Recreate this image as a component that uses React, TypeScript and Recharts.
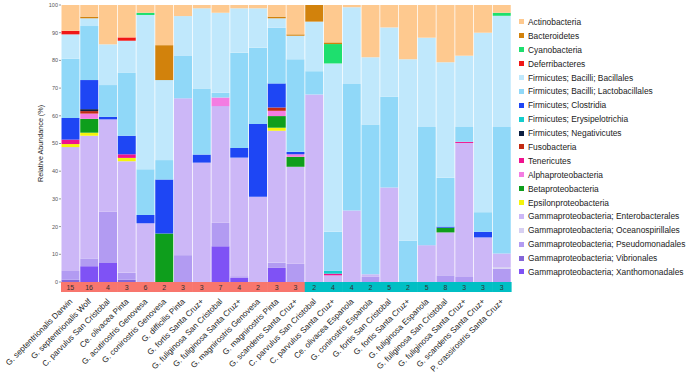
import React from 'react';
import { BarChart, Bar, XAxis, YAxis } from 'recharts';

// ---- categories ----
const birds = [
  'G. septentrionalis Darwin', 'G. septentrionalis Wolf', 'C. parvulus San Cristobal', 'Ce. olivacea Pinta',
  'G. acutirostris Genovesa', 'G. conirostris Genovesa', 'G. difficilis Pinta', 'G. fortis Santa Cruz+',
  'G. fuliginosa San Cristobal', 'G. fuliginosa Santa Cruz+', 'G. magnirostris Genovesa', 'G. magnirostris Pinta',
  'G. scandens Santa Cruz+',
  'C. parvulus San Cristobal', 'C. parvulus Santa Cruz+', 'Ce. olivacea Espanola', 'G. conirostris Espanola',
  'G. fortis San Cristobal', 'G. fortis Santa Cruz+', 'G. fuliginosa Espanola', 'G. fuliginosa San Cristobal',
  'G. fuliginosa Santa Cruz+', 'G. scandens Santa Cruz+', 'P. crassirostris Santa Cruz+',
];
const sampleSizes = [15, 16, 4, 3, 6, 2, 3, 3, 7, 4, 2, 3, 3, 2, 4, 4, 2, 5, 2, 5, 8, 3, 3, 3];
const groups = ['a', 'a', 'a', 'a', 'a', 'a', 'a', 'a', 'a', 'a', 'a', 'a', 'a', 'b', 'b', 'b', 'b', 'b', 'b', 'b', 'b', 'b', 'b', 'b'];
const groupColors: Record<string, string> = { a: '#F8766D', b: '#00BFC4' };
const yTicks = [0, 10, 20, 30, 40, 50, 60, 70, 80, 90, 100];

// ---- series values (% relative abundance) ----
const actinobacteria = [9.3, 4.2, 14.2, 11.7, 2.8, 14.5, 4, 1.2, 2.8, 1.2, 1.2, 4.2, 10.6, 0, 13.5, 0.8, 18.9, 8.1, 19.6, 11.8, 20.7, 18.3, 10, 2.8];
const bacteroidetes = [0, 0.6, 0, 0, 0, 12.6, 0, 0, 0, 0, 0, 0.6, 0.5, 6, 0.6, 0, 0, 0, 0, 0, 0, 0, 0, 0];
const cyanobacteria = [0, 0, 0, 0, 0.8, 0, 0, 0, 0, 0, 0, 0, 0, 0, 7, 0, 0, 0, 0, 0, 0, 0, 0, 1.1];
const deferribacteres = [1.3, 0, 0, 1.2, 0, 0, 0, 0, 0, 0, 0, 0, 0, 0, 0, 0, 0, 0, 0, 0, 0, 0, 0, 0];
const bacillales = [8.8, 2.8, 14.7, 11.6, 55.7, 28.9, 14.4, 28.9, 28.9, 16, 14.2, 3.4, 8.5, 17.9, 60.8, 27.7, 24.2, 25, 65.5, 32.2, 41.7, 25.7, 64.8, 40.1];
const lactobacillales = [21.4, 19.5, 11.5, 22.7, 16.5, 7, 15.3, 23.9, 1.7, 34.4, 27.6, 20.1, 33.4, 8.4, 14.1, 45.7, 54.1, 32.8, 14.9, 42.7, 17.6, 5.4, 7.1, 45.7];
const clostridia = [7.8, 10.5, 0.9, 6.7, 3, 19.5, 0, 2.9, 0, 3.5, 26.2, 8.7, 0.9, 0, 0, 0, 0, 0, 0, 0, 0.4, 0, 2, 0];
const erysipelotrichia = [0, 0, 0, 0, 0, 0, 0, 0, 0, 0, 0, 0, 0, 0, 1, 0, 0, 0, 0, 0, 0, 0, 0, 0];
const negativicutes = [0, 0.7, 0, 0, 0, 0, 0, 0, 0, 0, 0, 0, 0, 0, 0, 0, 0, 0, 0, 0, 0, 0, 0, 0];
const fusobacteria = [0, 0.9, 0, 0, 0, 0, 0, 0, 0, 0, 0, 1.2, 0, 0, 0, 0, 0, 0, 0, 0, 0, 0, 0, 0];
const tenericutes = [1.6, 0, 0, 1.3, 0, 0, 0, 0, 0, 0, 0, 0, 0, 0, 0.6, 0, 0, 0, 0, 0, 0, 0.4, 0, 0];
const alphaproteobacteria = [0, 1.9, 0, 0, 0, 0, 0, 0, 3.1, 0, 0, 1.9, 0.9, 0, 0, 0, 0, 0, 0, 0, 0, 0, 0, 0];
const betaproteobacteria = [0, 5, 0, 0, 0, 17.5, 0, 0, 0, 0, 0, 4.2, 3.6, 0, 0, 0, 0, 0, 0, 0, 1.7, 0, 0, 0];
const epsilonproteobacteria = [1.1, 1.1, 0, 1.2, 0, 0, 0, 0, 0, 0, 0, 1.1, 0, 0, 0, 0, 0, 0, 0, 0, 0, 0, 0, 0];
const enterobacterales = [44.7, 44.3, 33.3, 40.3, 21.2, 0, 56.6, 43.1, 42.1, 42.8, 30.8, 47.6, 35, 67.7, 2.4, 25.8, 0.8, 34.1, 0, 13.3, 15.5, 48.4, 16.1, 4.9];
const oceanospirillales = [0, 0, 0, 0, 0, 0, 0, 0, 0, 0, 0, 0, 0, 0, 0, 0, 0, 0, 0, 0, 0, 0, 0, 0.6];
const pseudomonadales = [3.2, 2.8, 18.5, 2.5, 0, 0, 9.7, 0, 8.5, 0.6, 0, 1.9, 6.6, 0, 0, 0, 2, 0, 0, 0, 2.4, 1.8, 0, 4.8];
const vibrionales = [0.8, 0, 0, 0.8, 0, 0, 0, 0, 0, 0, 0, 0, 0, 0, 0, 0, 0, 0, 0, 0, 0, 0, 0, 0];
const xanthomonadales = [0, 5.7, 6.9, 0, 0, 0, 0, 0, 12.9, 1.5, 0, 5.1, 0, 0, 0, 0, 0, 0, 0, 0, 0, 0, 0, 0];

// legend order (top of stack first)
const taxa = [
  { key: 'act', name: 'Actinobacteria', color: '#FEC98F', values: actinobacteria },
  { key: 'bct', name: 'Bacteroidetes', color: '#D2820C', values: bacteroidetes },
  { key: 'cya', name: 'Cyanobacteria', color: '#1EDF6E', values: cyanobacteria },
  { key: 'def', name: 'Deferribacteres', color: '#F01616', values: deferribacteres },
  { key: 'bac', name: 'Firmicutes; Bacilli; Bacillales', color: '#C0E8FC', values: bacillales },
  { key: 'lac', name: 'Firmicutes; Bacilli; Lactobacillales', color: '#90D8F8', values: lactobacillales },
  { key: 'clo', name: 'Firmicutes; Clostridia', color: '#1E46F4', values: clostridia },
  { key: 'ery', name: 'Firmicutes; Erysipelotrichia', color: '#14CDCD', values: erysipelotrichia },
  { key: 'neg', name: 'Firmicutes; Negativicutes', color: '#0C1E40', values: negativicutes },
  { key: 'fus', name: 'Fusobacteria', color: '#C22A12', values: fusobacteria },
  { key: 'ten', name: 'Tenericutes', color: '#F0128E', values: tenericutes },
  { key: 'alp', name: 'Alphaproteobacteria', color: '#F47CE2', values: alphaproteobacteria },
  { key: 'bet', name: 'Betaproteobacteria', color: '#0E9E1C', values: betaproteobacteria },
  { key: 'eps', name: 'Epsilonproteobacteria', color: '#F4F40C', values: epsilonproteobacteria },
  { key: 'ent', name: 'Gammaproteobacteria; Enterobacterales', color: '#CCB7F7', values: enterobacterales },
  { key: 'oce', name: 'Gammaproteobacteria; Oceanospirillales', color: '#D7D0F2', values: oceanospirillales },
  { key: 'pse', name: 'Gammaproteobacteria; Pseudomonadales', color: '#B29BF2', values: pseudomonadales },
  { key: 'vib', name: 'Gammaproteobacteria; Vibrionales', color: '#8466D8', values: vibrionales },
  { key: 'xan', name: 'Gammaproteobacteria; Xanthomonadales', color: '#7F52F5', values: xanthomonadales },
];

const data = birds.map((b, i) => {
  const row: Record<string, any> = { id: i, name: b };
  taxa.forEach((t) => { row[t.key] = t.values[i]; });
  return row;
});

const W = 692;
const H = 375;
const M_RIGHT = 181;
const Y_W = 61;
const X_H = 93;
const M_TOP = 5;
const PLOT_W = W - M_RIGHT - Y_W;
const BAND = PLOT_W / birds.length;
const FONT = '"Liberation Sans", Arial, sans-serif';

const BirdTick = (props: any) => {
  const { x, y, payload } = props;
  const i = Number(payload.value);
  const ax = x + 2.5;
  const ay = y + 20;
  return (
    <g>
      <rect x={x - BAND / 2} y={y} width={BAND + 0.6} height={10} fill={groupColors[groups[i]]} />
      <text x={x} y={y + 7.6} textAnchor="middle" fontSize={7} fill="#333" fontFamily={FONT}>
        {sampleSizes[i]}
      </text>
      <text
        x={ax}
        y={ay}
        textAnchor="end"
        fontSize={8.1}
        fill="#1a1a1a"
        fontFamily={FONT}
        transform={`rotate(-45 ${ax} ${ay})`}
      >
        {birds[i]}
      </text>
    </g>
  );
};

export default function App() {
  const stackOrder = [...taxa].reverse();
  return (
    <div style={{ position: 'absolute', left: 0, top: 0, width: W, height: H, background: '#fff' }}>
      <BarChart
        width={W}
        height={H}
        data={data}
        margin={{ top: M_TOP, right: M_RIGHT, bottom: 0, left: 0 }}
        barCategoryGap={0.5}
      >
        <XAxis
          dataKey="id"
          type="category"
          height={X_H}
          axisLine={false}
          tickLine={false}
          tickSize={0}
          tickMargin={0}
          interval={0}
          tick={<BirdTick />}
        />
        <YAxis
          width={Y_W}
          domain={[0, 100]}
          ticks={yTicks}
          axisLine={false}
          tickSize={2}
          tickMargin={1}
          tickLine={{ stroke: '#555', strokeWidth: 0.6 }}
          tick={{ fontSize: 5.5, fill: '#555', fontFamily: FONT }}
        />
        {stackOrder.map((t) => (
          <Bar key={t.key} dataKey={t.key} stackId="s" fill={t.color} isAnimationActive={false} />
        ))}
      </BarChart>
      <svg style={{ position: 'absolute', left: 0, top: 0 }} width={60} height={H}>
        <text
          x={43}
          y={143.5}
          textAnchor="middle"
          fontSize={7.2}
          fill="#222"
          fontFamily={FONT}
          transform="rotate(-90 43 143.5)"
        >
          Relative Abundance (%)
        </text>
      </svg>
      <div style={{ position: 'absolute', left: 519, top: 15, fontFamily: FONT, fontSize: 8.4, color: '#222' }}>
        {taxa.map((t) => (
          <div key={t.key} style={{ height: 13.9, display: 'flex', alignItems: 'center', whiteSpace: 'nowrap' }}>
            <span style={{ display: 'inline-block', width: 5, height: 5, background: t.color, marginRight: 4 }} />
            <span>{t.name}</span>
          </div>
        ))}
      </div>
    </div>
  );
}
